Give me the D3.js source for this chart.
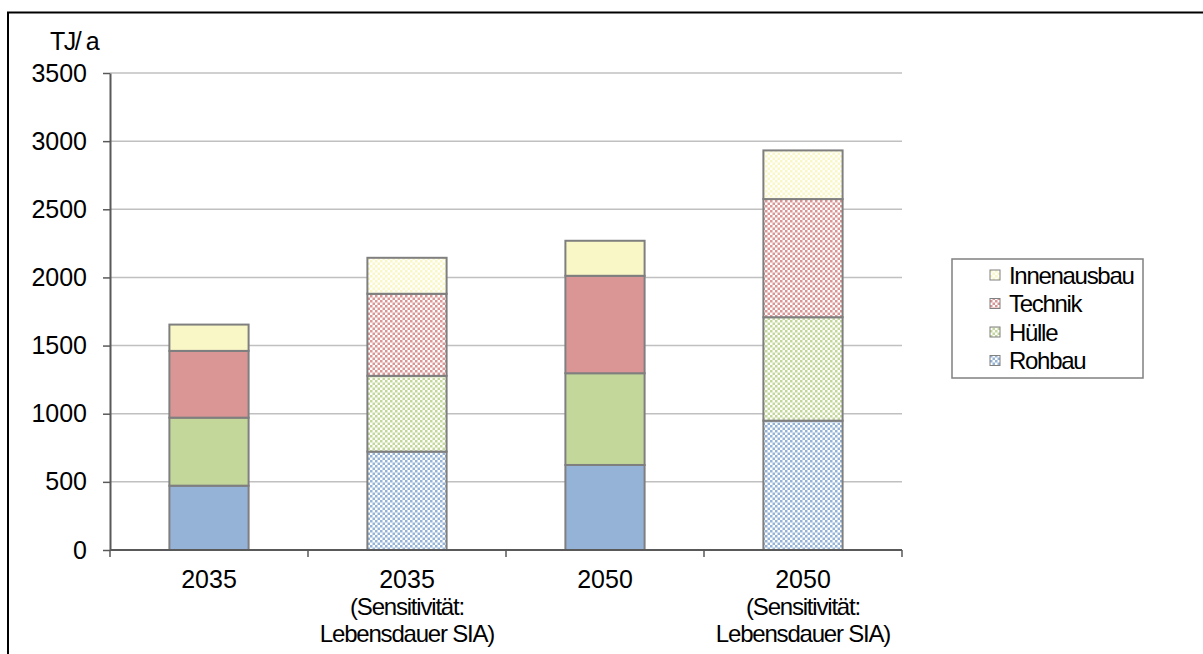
<!DOCTYPE html>
<html>
<head>
<meta charset="utf-8">
<script src="https://cdn.jsdelivr.net/npm/d3@7"></script>
<style>
  html, body { margin: 0; padding: 0; background: #fff; }
  svg { display: block; font-family: "Liberation Sans", Arial, sans-serif; }
</style>
</head>
<body>
<svg id="chart" width="1203" height="654"></svg>
<script>
// Categories (multi-line labels) and whether the bar uses the checkered fill
const categories = [
  ["2035"],
  ["2035", "(Sensitivität:", "Lebensdauer SIA)"],
  ["2050"],
  ["2050", "(Sensitivität:", "Lebensdauer SIA)"]
];
const sensitivity = [false, true, false, true];

// Series values, TJ/a (stack order bottom to top)
const rohbau      = [472, 722, 624, 949];
const huelle      = [499, 556, 673, 759];
const technik     = [490, 602, 715, 867];
const innenausbau = [193, 264, 257, 357];

const seriesNames = ["Rohbau", "Hülle", "Technik", "Innenausbau"];
const seriesColors = ["#95b3d7", "#c4d79b", "#d99694", "#faf7c6"];

const yTicks = [0, 500, 1000, 1500, 2000, 2500, 3000, 3500];
const unitLabel = "TJ/ a";

const FS = 24;
const svg = d3.select("#chart");

// Checkered fills for the sensitivity bars
const defs = svg.append("defs");
seriesColors.forEach((c, i) => {
  const p = defs.append("pattern")
    .attr("id", "chk" + i)
    .attr("width", 5).attr("height", 5)
    .attr("patternUnits", "userSpaceOnUse");
  p.append("rect").attr("width", 5).attr("height", 5).attr("fill", "#fff");
  p.append("rect").attr("width", 2.5).attr("height", 2.5).attr("fill", c);
  p.append("rect").attr("x", 2.5).attr("y", 2.5).attr("width", 2.5).attr("height", 2.5).attr("fill", c);
});

// Outer frame (left and top edges)
svg.append("path")
  .attr("d", "M8,654 V12.5 H1203")
  .attr("fill", "none").attr("stroke", "#000").attr("stroke-width", 2);

const plot = { left: 110, right: 902, top: 73, bottom: 550 };

const x = d3.scaleBand()
  .domain(d3.range(categories.length))
  .range([plot.left, plot.right])
  .paddingInner(0.6).paddingOuter(0.3);

const y = d3.scaleLinear().domain([0, 3500]).range([plot.bottom, plot.top]);

// Gridlines
svg.append("g").selectAll("line")
  .data(yTicks.filter(t => t > 0))
  .join("line")
  .attr("x1", plot.left).attr("x2", plot.right)
  .attr("y1", d => y(d)).attr("y2", d => y(d))
  .attr("stroke", "#c0c0c0").attr("stroke-width", 1.5);

// Stacked data
const table = categories.map((c, i) => ({
  i, Rohbau: rohbau[i], "Hülle": huelle[i], Technik: technik[i], Innenausbau: innenausbau[i]
}));
const stack = d3.stack().keys(seriesNames)(table);

const bars = svg.append("g");
stack.forEach((layer, si) => {
  bars.append("g").selectAll("rect")
    .data(layer)
    .join("rect")
    .attr("x", d => x(d.data.i))
    .attr("width", x.bandwidth())
    .attr("y", d => y(d[1]))
    .attr("height", d => y(d[0]) - y(d[1]))
    .attr("fill", d => sensitivity[d.data.i] ? `url(#chk${si})` : seriesColors[si])
    .attr("stroke", "#7f7f7f").attr("stroke-width", 2);
});

// Y axis
const yAxis = svg.append("g")
  .attr("transform", `translate(${plot.left},0)`)
  .call(d3.axisLeft(y).tickValues(yTicks).tickFormat(d3.format("d"))
    .tickSize(7).tickPadding(16).tickSizeOuter(0));
yAxis.select(".domain").attr("stroke", "#595959").attr("stroke-width", 2);
yAxis.selectAll(".tick line").attr("stroke", "#595959").attr("stroke-width", 1.5);
yAxis.selectAll(".tick text")
  .attr("font-size", FS + 1).attr("fill", "#000")
  .attr("font-family", "Liberation Sans, Arial, sans-serif");

// X axis (ticks at category boundaries)
const boundaries = d3.range(categories.length + 1).map(i => plot.left + i * (plot.right - plot.left) / categories.length);
svg.append("line")
  .attr("x1", plot.left).attr("x2", plot.right)
  .attr("y1", plot.bottom).attr("y2", plot.bottom)
  .attr("stroke", "#595959").attr("stroke-width", 2);
svg.append("g").selectAll("line")
  .data(boundaries)
  .join("line")
  .attr("x1", d => d).attr("x2", d => d)
  .attr("y1", plot.bottom).attr("y2", plot.bottom + 7)
  .attr("stroke", "#595959").attr("stroke-width", 1.5);

const xLabels = svg.append("g");
categories.forEach((lines, i) => {
  lines.forEach((ln, k) => {
    xLabels.append("text")
      .attr("text-anchor", "middle")
      .attr("font-size", k === 0 ? FS + 1 : FS).attr("fill", "#000")
      .attr("x", x(i) + x.bandwidth() / 2)
      .attr("y", 588 + k * 27)
      .attr("letter-spacing", k === 0 ? 0 : -1.2)
      .text(ln);
  });
});

// Unit label
svg.append("text")
  .attr("x", 50).attr("y", 50)
  .attr("font-size", FS + 1).attr("letter-spacing", -1.5)
  .text(unitLabel);

// Legend (top series first)
const legend = svg.append("g");
legend.append("rect")
  .attr("x", 952).attr("y", 259).attr("width", 191).attr("height", 119)
  .attr("fill", "#fff").attr("stroke", "#808080").attr("stroke-width", 1.5);
const legendOrder = [3, 2, 1, 0];
legendOrder.forEach((si, k) => {
  const cy = 275 + k * 28.5;
  legend.append("rect")
    .attr("x", 990).attr("y", cy - 5).attr("width", 10).attr("height", 10)
    .attr("fill", `url(#chk${si})`).attr("stroke", "#808080").attr("stroke-width", 1);
  legend.append("text")
    .attr("x", 1009).attr("y", cy + 8.5)
    .attr("font-size", FS).attr("letter-spacing", -1.3)
    .text(seriesNames[si]);
});
</script>
</body>
</html>
